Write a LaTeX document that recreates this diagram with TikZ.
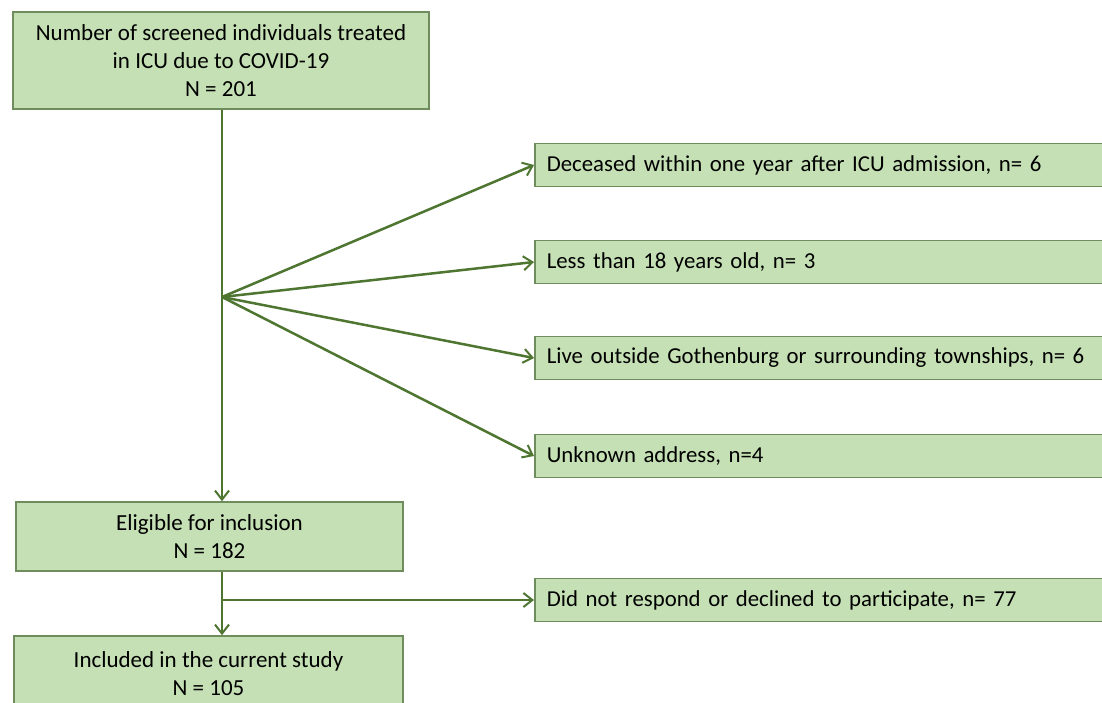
\documentclass[tikz,border=0pt]{standalone}
\usepackage{fontspec}
\setmainfont{Carlito}
\usetikzlibrary{arrows.meta}
\definecolor{boxfill}{HTML}{C5E0B4}
\definecolor{boxedge}{HTML}{6F8C5C}
\definecolor{linegreen}{HTML}{4E7630}
\begin{document}
\begin{tikzpicture}[x=1pt,y=-1pt,
  box/.style={draw=boxedge, fill=boxfill, line width=1.6pt, align=center, font=\fontsize{23}{28}\selectfont, inner sep=0pt},
  sidebox/.style={draw=boxedge, fill=boxfill, line width=1.6pt, anchor=west, minimum height=43pt, text width=574pt, align=left, inner xsep=12pt, inner ysep=0pt, font=\fontsize{22.8}{26}\selectfont},
  conn/.style={draw=linegreen, line width=2.5pt},
  arr/.style={conn, -{Straight Barb[length=9pt, width=14pt, line width=2pt]}}]
\useasboundingbox (0,0) rectangle (1102,702);
\fill[white] (0,0) rectangle (1102,702);
\node[box, minimum width=416pt, minimum height=97pt] (top) at (221,60.5)
  {Number of screened individuals treated\\in ICU due to COVID-19\\N = 201};
\node[box, minimum width=387pt, minimum height=69pt] (elig) at (209.5,536.5)
  {Eligible for inclusion\\N = 182};
\node[box, minimum width=389pt, minimum height=76pt] (incl) at (208.5,674)
  {Included in the current study\\N = 105};
\node[sidebox] (d1) at (534,165) {Deceased within one year after ICU admission, n= 6};
\node[sidebox] (d2) at (534,262) {Less than 18 years old, n= 3};
\node[sidebox] (d3) at (534,358) {Live outside Gothenburg or surrounding townships, n= 6};
\node[sidebox] (d4) at (534,456) {Unknown address, n=4};
\node[sidebox] (d5) at (534,600) {Did not respond or declined to participate, n= 77};
\coordinate (b1) at (222,297);
\coordinate (b2) at (222,600);
\draw[arr] (top.south -| b1) -- (b1 |- elig.north);
\draw[arr] (b1) -- (d1.west);
\draw[arr] (b1) -- (d2.west);
\draw[arr] (b1) -- (d3.west);
\draw[arr] (b1) -- (d4.west);
\draw[arr] (elig.south -| b2) -- (b2 |- incl.north);
\draw[arr] (b2) -- (d5.west);
\end{tikzpicture}
\end{document}
